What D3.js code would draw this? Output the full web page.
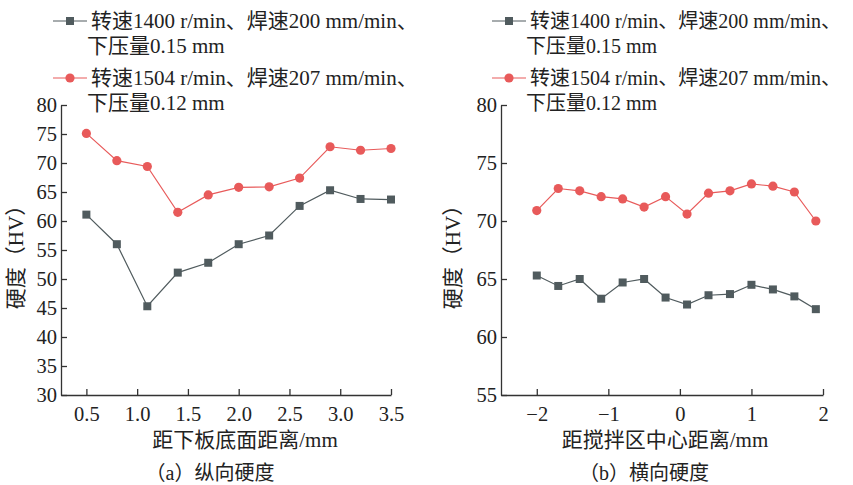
<!DOCTYPE html>
<html lang="zh">
<head>
<meta charset="UTF-8">
<title>硬度分布</title>
<style>
  body { margin: 0; background: #fff; }
  svg, svg text { font-family: "Liberation Serif", "Times New Roman", "Noto Sans CJK SC", serif; }
  .axis path, .axis line { stroke: #333; stroke-width: 1.3; }
  .axis text { font-size: 20.5px; fill: #222; }
</style>
<script src="https://d3js.org/d3.v7.min.js"></script>
</head>
<body>
<svg id="chart" width="853" height="485"></svg>
<script>
// (a) 纵向硬度
const xA = [0.5, 0.8, 1.1, 1.4, 1.7, 2.0, 2.3, 2.6, 2.9, 3.2, 3.5];
const greyA = [61.1, 56.0, 45.3, 51.1, 52.8, 56.0, 57.5, 62.6, 65.3, 63.8, 63.7];
const redA = [75.1, 70.4, 69.4, 61.5, 64.5, 65.8, 65.9, 67.4, 72.8, 72.2, 72.5];
const xTicksA = [0.5, 1.0, 1.5, 2.0, 2.5, 3.0, 3.5];
const yTicksA = [30, 35, 40, 45, 50, 55, 60, 65, 70, 75, 80];

// (b) 横向硬度
const xB = [-2, -1.7, -1.4, -1.1, -0.8, -0.5, -0.2, 0.1, 0.4, 0.7, 1.0, 1.3, 1.6, 1.9];
const greyB = [65.3, 64.4, 65.0, 63.3, 64.7, 65.0, 63.4, 62.8, 63.6, 63.7, 64.5, 64.1, 63.5, 62.4];
const redB = [70.9, 72.8, 72.6, 72.1, 71.9, 71.2, 72.1, 70.6, 72.4, 72.6, 73.2, 73.0, 72.5, 70.0];
const xTicksB = [-2, -1, 0, 1, 2];
const yTicksB = [55, 60, 65, 70, 75, 80];

const legendLines = [
  ["转速1400 r/min、焊速200 mm/min、", "下压量0.15 mm"],
  ["转速1504 r/min、焊速207 mm/min、", "下压量0.12 mm"]
];

const grey = "#505b5e";
const red = "#e85a5a";
const serif = "'Liberation Serif', 'Times New Roman', 'Noto Sans CJK SC', serif";
const svg = d3.select("#chart");

function panel(opt) {
  const x = d3.scaleLinear().domain(opt.xDomain).range([opt.left, opt.right]);
  const y = d3.scaleLinear().domain(opt.yDomain).range([395, 105]);
  const g = svg.append("g");

  const fmt = opt.fmt;
  g.append("g").attr("class", "axis")
    .attr("transform", "translate(0,395)")
    .call(d3.axisBottom(x).tickValues(opt.xTicks).tickSize(-6).tickSizeOuter(0).tickPadding(11)
      .tickFormat(d => fmt(d)))
    .attr("font-family", serif)
    .call(a => a.selectAll("text").attr("dy", "0.75em"));
  g.append("g").attr("class", "axis")
    .attr("transform", `translate(${opt.left},0)`)
    .call(d3.axisLeft(y).tickValues(opt.yTicks).tickSize(-6).tickSizeOuter(0).tickPadding(4))
    .attr("font-family", serif);

  const line = d3.line().x(d => x(d[0])).y(d => y(d[1]));
  const gd = opt.xs.map((v, i) => [v, opt.grey[i]]);
  const rd = opt.xs.map((v, i) => [v, opt.red[i]]);

  g.append("path").datum(gd).attr("d", line).attr("fill", "none").attr("stroke", grey).attr("stroke-width", 1.2);
  g.selectAll(".sq").data(gd).join("rect")
    .attr("x", d => x(d[0]) - 4).attr("y", d => y(d[1]) - 4)
    .attr("width", 8).attr("height", 8).attr("fill", grey);
  g.append("path").datum(rd).attr("d", line).attr("fill", "none").attr("stroke", red).attr("stroke-width", 1.2);
  g.selectAll(".ci").data(rd).join("circle")
    .attr("cx", d => x(d[0])).attr("cy", d => y(d[1])).attr("r", 4.6).attr("fill", red);

  // y title
  g.append("text")
    .attr("transform", `translate(${opt.yTitleX},252) rotate(-90)`)
    .attr("text-anchor", "middle").attr("dominant-baseline", "central")
    .attr("font-size", 21).attr("fill", "#222")
    .text("硬度（HV）");
  // x title
  g.append("text")
    .attr("x", opt.xTitleX).attr("y", 447)
    .attr("text-anchor", "middle").attr("font-size", 21).attr("fill", "#222")
    .text(opt.xTitle);
  // caption
  g.append("text")
    .attr("x", opt.capX).attr("y", 480)
    .attr("text-anchor", "middle").attr("font-size", 20).attr("fill", "#222")
    .text(opt.caption);

  // legend
  const lg = g.append("g");
  [[grey, "sq"], [red, "ci"]].forEach(([c, m], i) => {
    const cy = 21 + i * 57;
    lg.append("line").attr("x1", opt.legX).attr("x2", opt.legX + 34)
      .attr("y1", cy).attr("y2", cy).attr("stroke", c).attr("stroke-width", 1.2);
    if (m === "sq") {
      lg.append("rect").attr("x", opt.legX + 13).attr("y", cy - 4).attr("width", 8).attr("height", 8).attr("fill", c);
    } else {
      lg.append("circle").attr("cx", opt.legX + 17).attr("cy", cy).attr("r", 4.6).attr("fill", c);
    }
    lg.append("text").attr("x", opt.legX + 38).attr("y", cy + 7)
      .attr("font-size", opt.legFont).attr("fill", "#222").text(legendLines[i][0]);
    lg.append("text").attr("x", opt.legX + 34).attr("y", cy + 32)
      .attr("font-size", opt.legFont).attr("fill", "#222").text(legendLines[i][1]);
  });
}

panel({
  xDomain: [0.25, 3.5], yDomain: [30, 80], left: 61, right: 391,
  xs: xA, grey: greyA, red: redA, xTicks: xTicksA, yTicks: yTicksA,
  fmt: d3.format(".1f"), yTitleX: 16, xTitle: "距下板底面距离/mm", xTitleX: 245,
  caption: "（a）纵向硬度", capX: 210, legX: 53, legFont: 21
});
panel({
  xDomain: [-2.5, 2], yDomain: [55, 80], left: 501, right: 823,
  xs: xB, grey: greyB, red: redB, xTicks: xTicksB, yTicks: yTicksB,
  fmt: d => d < 0 ? "\u2212" + Math.abs(d) : String(d), yTitleX: 453, xTitle: "距搅拌区中心距离/mm", xTitleX: 665,
  caption: "（b）横向硬度", capX: 644, legX: 492, legFont: 20
});
</script>
</body>
</html>
